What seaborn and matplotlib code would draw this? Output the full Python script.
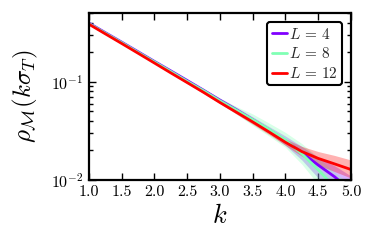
import pandas as pd
import seaborn as sns
import matplotlib.pyplot as plt
import numpy as np

# data
k = [1.0, 1.25, 1.5, 1.75, 2.0, 2.25, 2.5, 2.75, 3.0, 3.25, 3.5, 3.75, 4.0, 4.25, 4.5, 4.75, 5.0]

rho_L4 = [0.395, 0.316, 0.253, 0.202, 0.161, 0.129, 0.103, 0.082, 0.065, 0.052, 0.0412, 0.0325, 0.0250, 0.0190, 0.0142, 0.0108, 0.0078]
lo_L4 = [0.390, 0.312, 0.249, 0.199, 0.158, 0.126, 0.100, 0.079, 0.062, 0.049, 0.0385, 0.030, 0.0225, 0.0160, 0.0105, 0.0070, 0.0040]
hi_L4 = [0.400, 0.320, 0.257, 0.205, 0.164, 0.132, 0.106, 0.085, 0.068, 0.055, 0.0440, 0.0350, 0.0280, 0.0220, 0.0170, 0.0140, 0.0110]

rho_L8 = [0.390, 0.312, 0.250, 0.199, 0.159, 0.127, 0.101, 0.081, 0.064, 0.0515, 0.0412, 0.0328, 0.0255, 0.0185, 0.0127, 0.0085, 0.0060]
lo_L8 = [0.385, 0.307, 0.245, 0.195, 0.155, 0.123, 0.097, 0.077, 0.060, 0.047, 0.036, 0.028, 0.0215, 0.0145, 0.0090, 0.0050, 0.0030]
hi_L8 = [0.395, 0.317, 0.255, 0.203, 0.163, 0.131, 0.105, 0.085, 0.068, 0.056, 0.047, 0.038, 0.0305, 0.0235, 0.0170, 0.0120, 0.0090]

rho_L12 = [0.385, 0.307, 0.245, 0.195, 0.155, 0.123, 0.098, 0.078, 0.0615, 0.049, 0.0390, 0.0308, 0.0242, 0.0195, 0.0166, 0.0146, 0.0128]
lo_L12 = [0.382, 0.304, 0.243, 0.193, 0.153, 0.121, 0.096, 0.076, 0.060, 0.047, 0.037, 0.0290, 0.0225, 0.0175, 0.0142, 0.0122, 0.0105]
hi_L12 = [0.388, 0.310, 0.247, 0.197, 0.157, 0.125, 0.100, 0.080, 0.063, 0.051, 0.041, 0.0328, 0.0262, 0.0220, 0.0195, 0.0178, 0.0160]

sizes = ["4", "8", "12"]
colors = ["#8000ff", "#80ffb4", "#ff0000"]

rows = []
for L, y in zip(sizes, [rho_L4, rho_L8, rho_L12]):
    for kk, v in zip(k, y):
        rows.append({"k": kk, "rho": v, "L": r"$L\,=\,%s$" % L})
df = pd.DataFrame(rows)

sns.set_style("ticks")
plt.rcParams["font.family"] = ["cmr10", "DejaVu Serif"]
plt.rcParams["mathtext.fontset"] = "cm"
plt.rcParams["axes.formatter.use_mathtext"] = True
plt.rcParams["axes.unicode_minus"] = False

fig = plt.figure(figsize=(3.75, 2.45), dpi=100)
ax = fig.add_axes([0.237, 0.265, 0.699, 0.682])

# bands
for lo, hi, c in zip([lo_L4, lo_L8, lo_L12], [hi_L4, hi_L8, hi_L12], colors):
    ax.fill_between(k, lo, hi, color=c, alpha=0.3, linewidth=0)

sns.lineplot(data=df, x="k", y="rho", hue="L", palette=colors, linewidth=2, ax=ax)

ax.set_yscale("log")
ax.set_xlim(1.0, 5.0)
ax.set_ylim(0.01, 0.5)
ax.set_xticks([1.0, 1.5, 2.0, 2.5, 3.0, 3.5, 4.0, 4.5, 5.0])
ax.set_xticklabels(["1.0", "1.5", "2.0", "2.5", "3.0", "3.5", "4.0", "4.5", "5.0"])
ax.tick_params(which="both", direction="in", top=True, right=True, labelsize=11.5,
               width=1, color="black", labelcolor="black")
ax.tick_params(which="major", length=5, pad=4)
ax.tick_params(which="minor", length=3)
for s in ax.spines.values():
    s.set_linewidth(1.6)
    s.set_color("black")

ax.set_xlabel("$k$", fontsize=19, color="black", labelpad=3)
ax.set_ylabel(r"$\rho_{\mathcal{M}}(k\sigma_T)$", fontsize=18, color="black", labelpad=8)

leg = ax.legend(loc="upper right", fontsize=11, handlelength=1.0, handletextpad=0.1,
                borderpad=0.3, labelspacing=0.3, borderaxespad=0.6, fancybox=True, framealpha=1)
leg.get_frame().set_edgecolor("black")
leg.get_frame().set_linewidth(1.5)

fig.savefig("out.png", dpi=100)
